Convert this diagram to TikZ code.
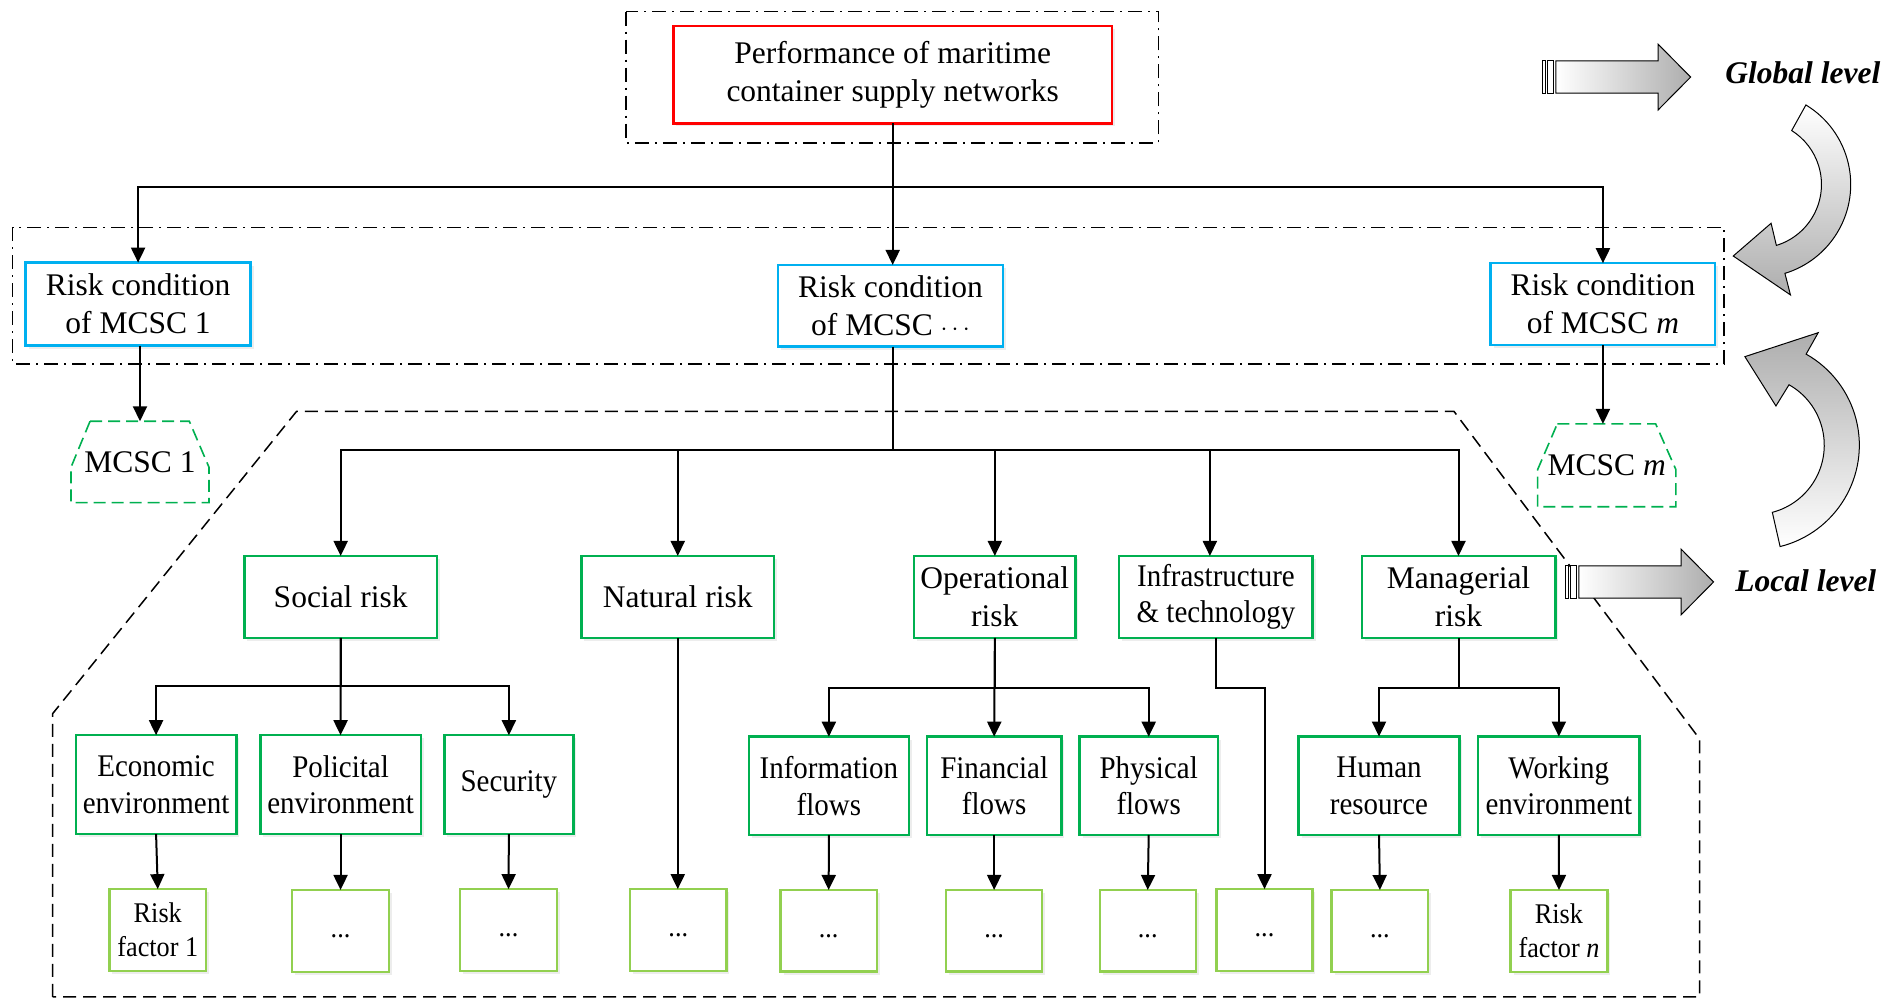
\documentclass[tikz,border=0pt]{standalone}
\usepackage{fontspec}
\setmainfont{Liberation Serif}
\newfontfamily\narrowserif[FakeStretch=0.92]{Liberation Serif}
\usetikzlibrary{arrows.meta,shadows,calc}

\definecolor{boxred}{RGB}{255,0,0}
\definecolor{boxblue}{RGB}{0,176,240}
\definecolor{boxgreen}{RGB}{0,176,80}
\definecolor{leafgreen}{RGB}{146,208,80}

\begin{document}
\begin{tikzpicture}[x=1.2137pt, y=-1.2137pt,
  every node/.style={inner sep=0pt, outer sep=0pt},
  % a node spanning the box with corners (x1,y1) and (x2,y2)
  corners/.style args={#1,#2,#3,#4}{
    at={({(#1+#3)/2},{(#2+#4)/2})},
    minimum width={(#3-#1)*1.2137pt},
    minimum height={(#4-#2)*1.2137pt}},
  txt/.style={font=\fontsize{31.5}{38}\selectfont, align=center},
  ntxt/.style={font=\narrowserif\fontsize{31.5}{36.5}\selectfont, align=center},
  stxt/.style={font=\narrowserif\fontsize{28.5}{34}\selectfont, align=center},
  basebox/.style={draw, line width=2.4pt, fill=white,
    drop shadow={shadow xshift=3pt, shadow yshift=-3pt, fill=black!14}},
  topbox/.style={basebox, draw=boxred, txt},
  condbox/.style={basebox, draw=boxblue, txt},
  riskbox/.style={basebox, draw=boxgreen, txt},
  narrowriskbox/.style={basebox, draw=boxgreen, ntxt},
  subbox/.style={basebox, draw=boxgreen, ntxt},
  leafbox/.style={basebox, draw=leafgreen, stxt},
  dashdotframe/.style={line width=1.6pt, dash pattern=on 14pt off 6pt on 2pt off 6pt},
  scopeframe/.style={line width=1.5pt, dash pattern=on 13pt off 7pt},
  mcscshape/.style={draw=boxgreen, line width=1.6pt, dash pattern=on 12pt off 6pt},
  conn/.style={draw, line width=2pt},
  arr/.style={conn, -{Triangle[length=15pt,width=14pt]}},
  blockarrow/.style={draw=black, line width=1pt, left color=white, right color=black!32},
  tailbar/.style={draw=black, line width=1pt, fill=white},
  bendarrow/.style={draw=black, line width=1pt},
  levellabel/.style={font=\bfseries\itshape\fontsize{31.5}{38}\selectfont, anchor=base},
]
\useasboundingbox (0,0) rectangle (1568,823);

% ---------- frames ----------
\draw[dashdotframe] (515.8,9.6) rectangle (954.7,117.6);
\draw[dashdotframe] (10.4,187.4) rectangle (1420.7,299.9);
\draw[scopeframe] (43.4,821.3) -- (43.4,588) -- (244.4,338.9) -- (1198,338.9)
  -- (1400.5,609) -- (1400.5,821.3) -- cycle;

% ---------- global level ----------
\node[topbox, corners={554.9,21.2,916.2,101.6}] (perf)
  {Performance of maritime\\container supply networks};

% ---------- chain risk conditions ----------
\node[condbox, corners={21.1,216.4,206.5,284.8}] (cond1) {Risk condition\\of MCSC 1};
\node[condbox, corners={641.0,218.3,826.4,285.6}] (cond2) {Risk condition\\of MCSC $\cdots$};
\node[condbox, corners={1228.2,216.9,1413.3,284.3}] (condm) {Risk condition\\of MCSC \textit{m}};

% ---------- chains ----------
\draw[mcscshape] (74.2,347.1) -- (156,347.1) -- (172.2,385) -- (172.2,414.2)
  -- (58.5,414.2) -- (58.5,385) -- cycle;
\node[txt, corners={58.5,347.1,172.2,414.2}] (mcsc1) {MCSC 1};
\draw[mcscshape] (1283.1,349.3) -- (1364.2,349.3) -- (1380.9,387) -- (1380.9,417.5)
  -- (1266.9,417.5) -- (1266.9,387) -- cycle;
\node[txt, corners={1266.9,349.3,1380.9,417.5}] (mcscm) {MCSC \textit{m}};

% ---------- risk categories ----------
\node[riskbox, corners={201.3,458.1,360.1,525.5}] (social) {Social risk};
\node[riskbox, corners={479.0,458.1,637.9,525.5}] (natural) {Natural risk};
\node[riskbox, corners={753.3,458.1,886.1,525.5}] (oper) {Operational\\risk};
\node[narrowriskbox, corners={922.2,458.1,1081.6,525.5}] (infra) {Infrastructure\\\& technology};
\node[riskbox, corners={1122.0,458.1,1281.5,525.5}] (manag) {Managerial\\risk};

% ---------- sub-categories ----------
\node[subbox, corners={62.5,605.8,194.7,687.3}] (econ) {Economic\\environment};
\node[subbox, corners={214.5,605.8,346.7,687.3}] (polic) {Policital\\environment};
\node[subbox, corners={366.2,605.8,472.4,687.3}] (secur) {Security};
\node[subbox, corners={617.0,607.0,748.9,688.0}] (info) {Information\\flows};
\node[subbox, corners={763.7,607.0,874.6,688.0}] (fin) {Financial\\flows};
\node[subbox, corners={889.6,607.0,1003.4,688.0}] (phys) {Physical\\flows};
\node[subbox, corners={1070.0,606.9,1202.5,687.9}] (human) {Human\\resource};
\node[subbox, corners={1218.0,606.9,1350.8,687.9}] (work) {Working\\environment};

% ---------- risk factors ----------
\node[leafbox, corners={90.2,732.6,169.8,800.0}] (rf1) {Risk\\factor 1};
\node[leafbox, corners={240.8,733.3,320.4,800.9}] (dpol) {\strut...};
\node[leafbox, corners={379.2,732.6,458.8,800.0}] (dsec) {\strut...};
\node[leafbox, corners={519.2,732.6,598.6,800.0}] (dnat) {\strut...};
\node[leafbox, corners={643.2,733.3,722.4,800.6}] (dinfo) {\strut...};
\node[leafbox, corners={779.5,733.3,858.8,800.6}] (dfin) {\strut...};
\node[leafbox, corners={906.1,733.3,985.3,800.6}] (dphys) {\strut...};
\node[leafbox, corners={1002.4,732.6,1081.4,800.0}] (dinfra) {\strut...};
\node[leafbox, corners={1097.2,733.3,1176.8,800.9}] (dhum) {\strut...};
\node[leafbox, corners={1244.7,733.3,1324.4,800.9}] (rfn) {Risk\\factor \textit{n}};

% ---------- connector buses ----------
\coordinate (busA) at (0,154.2);
\coordinate (busB) at (0,370.8);
\coordinate (busS) at (0,565.5);
\coordinate (busO) at (0,567.2);
\coordinate (busM) at (0,566.8);

% global -> chains
\draw[arr] (perf.south) -- (perf.south |- busA) -| (cond1.north);
\draw[arr] (perf.south) -- (perf.south |- cond2.north);
\draw[arr] (perf.south) -- (perf.south |- busA) -| (condm.north);
\draw[arr] (mcsc1.north |- cond1.south) -- (mcsc1.north);
\draw[arr] (condm.south) -- (condm.south |- mcscm.north);

% chain -> risk categories
\draw[conn] (perf.south |- cond2.south) -- (perf.south |- busB);
\draw[arr] (perf.south |- busB) -| (social.north);
\draw[arr] (perf.south |- busB) -| (natural.north);
\draw[arr] (perf.south |- busB) -| (oper.north);
\draw[arr] (perf.south |- busB) -| ($(infra.north)+(-5,0)$);
\draw[arr] (perf.south |- busB) -| (manag.north);

% categories -> sub-categories
\draw[arr] (social.south) -- (social.south |- busS) -| (econ.north);
\draw[arr] (social.south) -- (polic.north);
\draw[arr] (social.south) -- (social.south |- busS) -| (secur.north);
\draw[arr] (natural.south) -- (natural.south |- dnat.north);
\draw[arr] (oper.south) -- (oper.south |- busO) -| (info.north);
\draw[arr] (oper.south) -- (fin.north);
\draw[arr] (oper.south) -- (oper.south |- busO) -| (phys.north);
\draw[arr] (infra.south) -- (infra.south |- busO) -| (dinfra.north);
\draw[arr] (manag.south) -- (manag.south |- busM) -| (human.north);
\draw[arr] (manag.south) -- (manag.south |- busM) -| (work.north);

% sub-categories -> risk factors
\draw[arr] (econ.south) -- (rf1.north);
\draw[arr] (polic.south) -- (dpol.north);
\draw[arr] (secur.south) -- (dsec.north);
\draw[arr] (info.south) -- (dinfo.north);
\draw[arr] (fin.south) -- (dfin.north);
\draw[arr] (phys.south) -- (dphys.north);
\draw[arr] (human.south) -- (dhum.north);
\draw[arr] (work.south) -- (rfn.north);

% ---------- level markers ----------
\begin{scope}[shift={(1271.1,63.5)}]
  \draw[tailbar] (0,-13.3) rectangle (2.7,13.3);
  \draw[tailbar] (3.8,-13.3) rectangle (9.3,13.3);
  \path[blockarrow] (10.9,-13.3) -- (95.2,-13.3) -- (95.2,-27) -- (121.9,0)
    -- (95.2,27) -- (95.2,13.3) -- (10.9,13.3) -- cycle;
\end{scope}
\node[levellabel] (global) at (1485.5,69) {Global level};

\begin{scope}[shift={(1290,479.5)}]
  \draw[tailbar] (0,-13.3) rectangle (2.7,13.3);
  \draw[tailbar] (3.8,-13.3) rectangle (9.3,13.3);
  \path[blockarrow] (10.9,-13.3) -- (95.2,-13.3) -- (95.2,-27) -- (121.9,0)
    -- (95.2,27) -- (95.2,13.3) -- (10.9,13.3) -- cycle;
\end{scope}
\node[levellabel] (local) at (1487.9,487.5) {Local level};

% downward bent arrow (global to chains)
\begin{scope}[shift={(1448.3,152)}]
  \path[bendarrow, top color=white, bottom color=black!32]
    (-58.8:76.6) arc[start angle=-58.8, end angle=73, radius=76.6]
    -- (73.5:94.9) -- (108.9:62.3) -- (71:33.8) -- (73:52.5)
    arc[start angle=73, end angle=-57.8, radius=52.5] -- cycle;
\end{scope}

% upward bent arrow (local to chains)
\begin{scope}[shift={(1445.9,366.8)}]
  \path[bendarrow, top color=black!32, bottom color=white]
    (76:86.1) arc[start angle=76, end angle=-60.6, radius=86.1]
    -- (-60.6:106.4) -- (-96.4:73.4) -- (-61.7:36.7) -- (-60.5:57.2)
    arc[start angle=-60.5, end angle=75.4, radius=57.2] -- cycle;
\end{scope}

\end{tikzpicture}
\end{document}
